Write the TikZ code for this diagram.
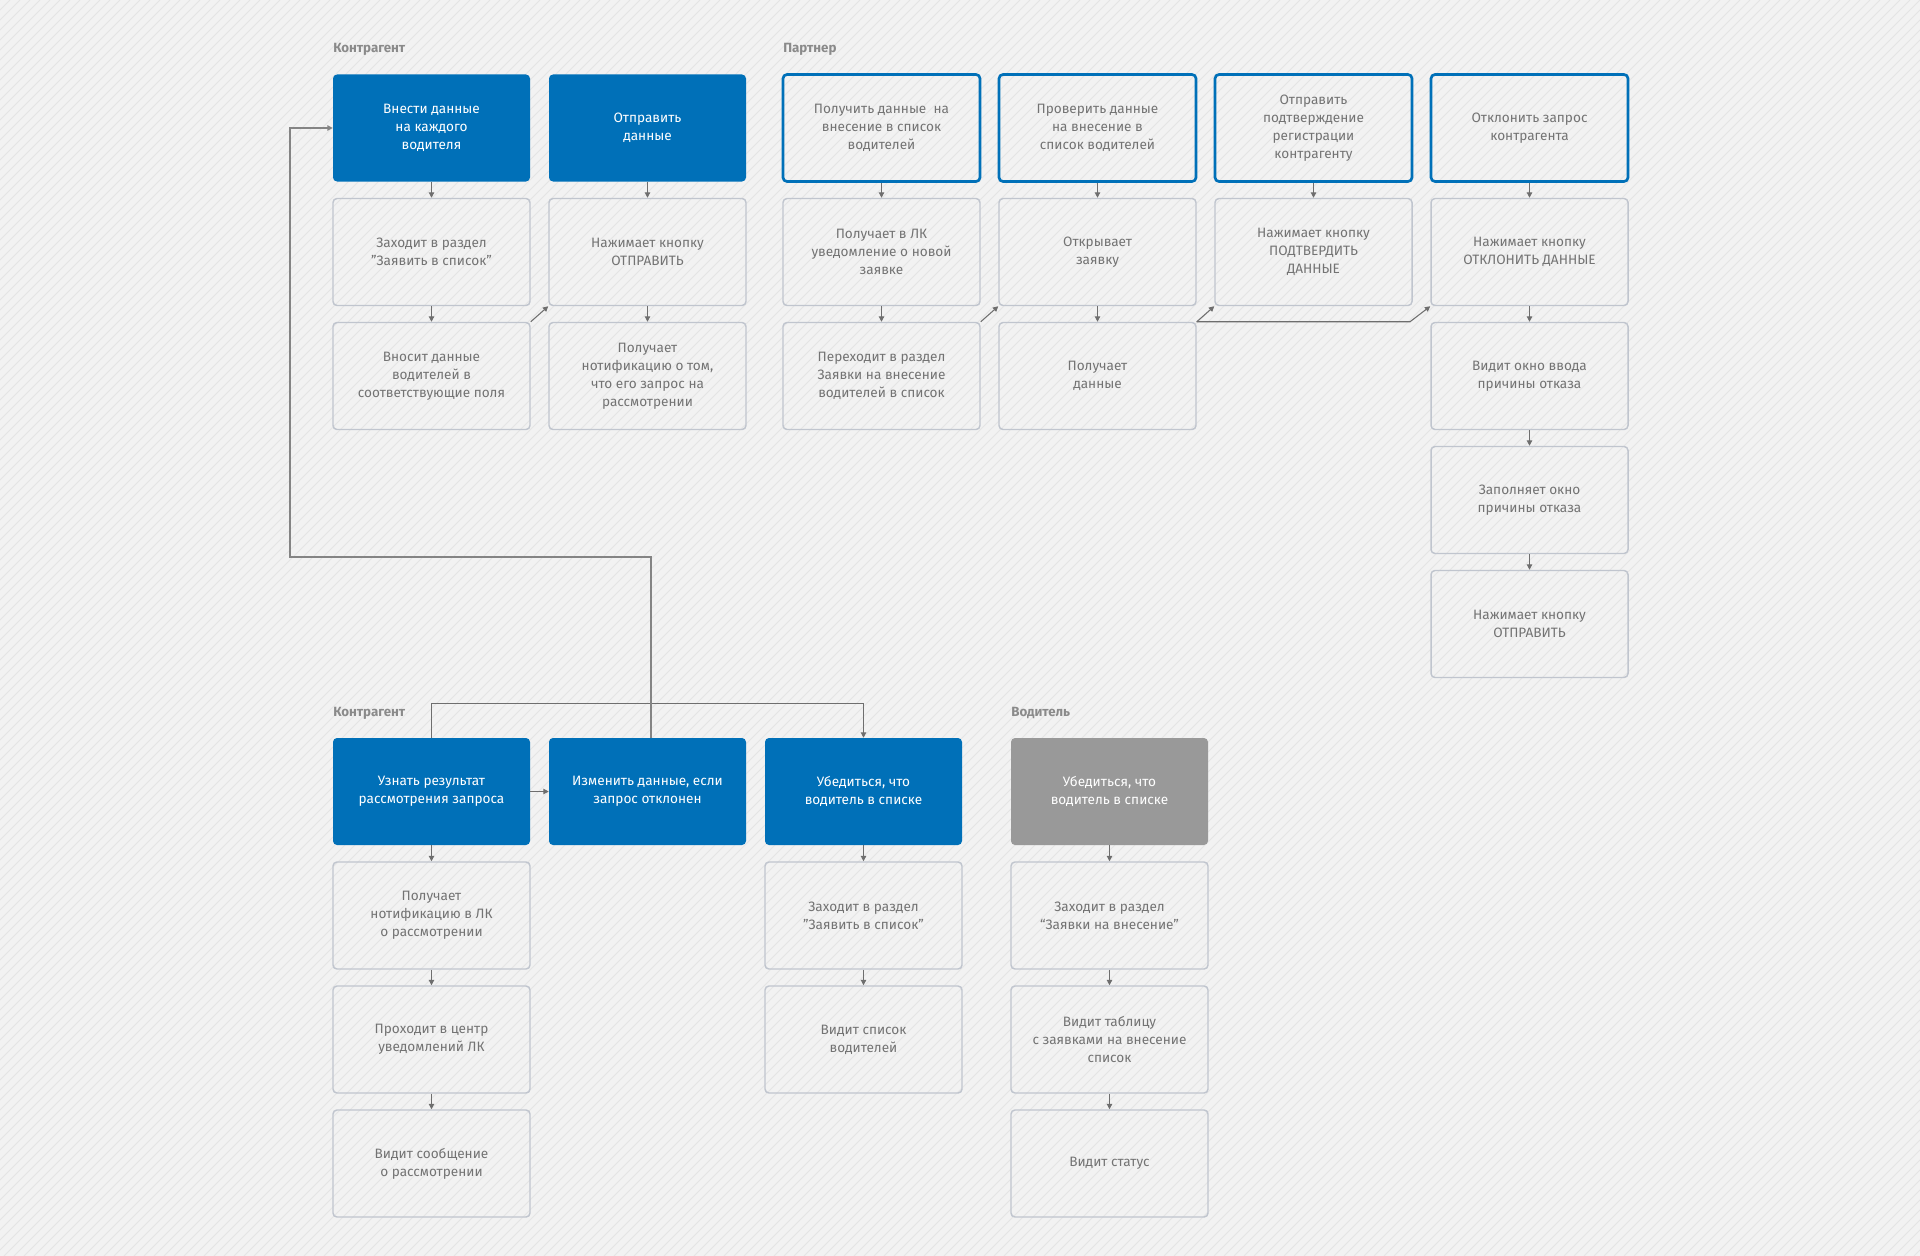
\documentclass[tikz,border=0pt]{standalone}
\usepackage{fontspec}
\setmainfont{Fira Sans}
\usetikzlibrary{arrows.meta}
\definecolor{bg}{HTML}{F2F2F2}
\definecolor{stripe}{HTML}{E4E4E4}
\definecolor{cblue}{HTML}{0070B8}
\definecolor{cgrayfill}{HTML}{999999}
\definecolor{cborder}{HTML}{C0C5CE}
\definecolor{ctext}{HTML}{737373}
\definecolor{clabel}{HTML}{8A8A8A}
\definecolor{carrow}{HTML}{6E6E6E}
\tikzset{
  box/.style={rectangle, rounded corners=3pt, minimum width=147.75pt, minimum height=80.25pt,
    inner sep=0pt, align=center, font=\fontsize{10.2pt}{13.5pt}\selectfont},
  stepbox/.style={box, draw=cborder, line width=1.1pt, text=ctext},
  bluebox/.style={box, fill=cblue, text=white},
  outbox/.style={box, draw=cblue, line width=2pt, text=ctext},
  graybox/.style={box, fill=cgrayfill, text=white},
  lane/.style={anchor=west, inner sep=0pt, text=clabel, font=\fontsize{10pt}{12pt}\selectfont\bfseries},
  arr/.style={draw=carrow, line width=0.8pt, -{Triangle[length=4pt,width=4pt]}},
  loop/.style={draw=carrow!85, line width=1pt, -{Triangle[length=4pt,width=4pt]}}
}
\begin{document}
\begin{tikzpicture}[x=0.75pt,y=-0.75pt]
\fill[bg] (0,0) rectangle (1920,1256);
\useasboundingbox (0,0) rectangle (1920,1256);
\begin{scope}
\clip (0,0) rectangle (1920,1256);
\foreach \c in {0,10,...,3180} \draw[stripe, line width=0.7pt] (\c,0) -- (\c-1256,1256);
\end{scope}

% lane labels
\node[lane] (lk1) at (333,49) {Контрагент};
\node[lane] (lp) at (783,49) {Партнер};
\node[lane] (lk2) at (333,713) {Контрагент};
\node[lane] (lv) at (1011,713) {Водитель};

% Kontragent top
\node[bluebox] (a1) at (431.5,128) {Внести данные\\на каждого\\водителя};
\node[stepbox] (a2) at (431.5,252) {Заходит в раздел\\"Заявить в список"};
\node[stepbox] (a3) at (431.5,376) {Вносит данные\\водителей в\\соответствующие поля};
\node[bluebox] (b1) at (647.5,128) {Отправить\\данные};
\node[stepbox] (b2) at (647.5,252) {Нажимает кнопку\\ОТПРАВИТЬ};
\node[stepbox] (b3) at (647.5,376) {Получает\\нотификацию о том,\\что его запрос на\\рассмотрении};

% Partner
\node[outbox] (p1) at (881.5,128) {Получить данные ~на\\внесение в список\\водителей};
\node[stepbox] (p12) at (881.5,252) {Получает в ЛК\\уведомление о новой\\заявке};
\node[stepbox] (p13) at (881.5,376) {Переходит в раздел\\Заявки на внесение\\водителей в список};
\node[outbox] (p2) at (1097.5,128) {Проверить данные\\на внесение в\\список водителей};
\node[stepbox] (p22) at (1097.5,252) {Открывает\\заявку};
\node[stepbox] (p23) at (1097.5,376) {Получает\\данные};
\node[outbox] (p3) at (1313.5,128) {Отправить\\подтверждение\\регистрации\\контрагенту};
\node[stepbox] (p32) at (1313.5,252) {Нажимает кнопку\\ПОДТВЕРДИТЬ\\ДАННЫЕ};
\node[outbox] (p4) at (1529.5,128) {Отклонить запрос\\контрагента};
\node[stepbox] (p42) at (1529.5,252) {Нажимает кнопку\\ОТКЛОНИТЬ ДАННЫЕ};
\node[stepbox] (p43) at (1529.5,376) {Видит окно ввода\\причины отказа};
\node[stepbox] (p44) at (1529.5,500) {Заполняет окно\\причины отказа};
\node[stepbox] (p45) at (1529.5,624) {Нажимает кнопку\\ОТПРАВИТЬ};

% Kontragent bottom
\node[bluebox] (k1) at (431.5,791.5) {Узнать результат\\рассмотрения запроса};
\node[stepbox] (k12) at (431.5,915.5) {Получает\\нотификацию в ЛК\\о рассмотрении};
\node[stepbox] (k13) at (431.5,1039.5) {Проходит в центр\\уведомлений ЛК};
\node[stepbox] (k14) at (431.5,1163.5) {Видит сообщение\\о рассмотрении};
\node[bluebox] (k2) at (647.5,791.5) {Изменить данные, если\\запрос отклонен};
\node[bluebox] (k3) at (863.5,791.5) {Убедиться, что\\водитель в списке};
\node[stepbox] (k32) at (863.5,915.5) {Заходит в раздел\\"Заявить в список"};
\node[stepbox] (k33) at (863.5,1039.5) {Видит список\\водителей};

% Voditel
\node[graybox] (v1) at (1109.5,791.5) {Убедиться, что\\водитель в списке};
\node[stepbox] (v2) at (1109.5,915.5) {Заходит в раздел\\“Заявки на внесение”};
\node[stepbox] (v3) at (1109.5,1039.5) {Видит таблицу\\с заявками на внесение\\список};
\node[stepbox] (v4) at (1109.5,1163.5) {Видит статус};

% vertical arrows
\foreach \u/\w in {a1/a2,a2/a3,b1/b2,b2/b3,p1/p12,p12/p13,p2/p22,p22/p23,p3/p32,
  p4/p42,p42/p43,p43/p44,p44/p45,k1/k12,k12/k13,k13/k14,k3/k32,k32/k33,v1/v2,v2/v3,v3/v4}
  \draw[arr] (\u.south) -- (\w.north);

% diagonal arrows
\draw[arr] (a3.north east) -- (b2.south west);
\draw[arr] (p13.north east) -- (p22.south west);
\draw[arr] (p23.north east) -- (p32.south west);
\coordinate (kinkx) at (1410,0);
\draw[arr] (p23.north east) -- (p23.north east -| kinkx) -- (p42.south west);

% bottom connectors
\draw[arr] (k1.east) -- (k2.west);
\draw[arr] (k1.north) -- ++(0,-34) -| (k3.north);
\coordinate (loopA) at (651,557);
\coordinate (loopB) at (290,557);
\coordinate (loopC) at (290,128);
\draw[loop] (k2.north -| loopA) -- (loopA) -- (loopB) -- (loopC) -- (a1.west);
\end{tikzpicture}
\end{document}
